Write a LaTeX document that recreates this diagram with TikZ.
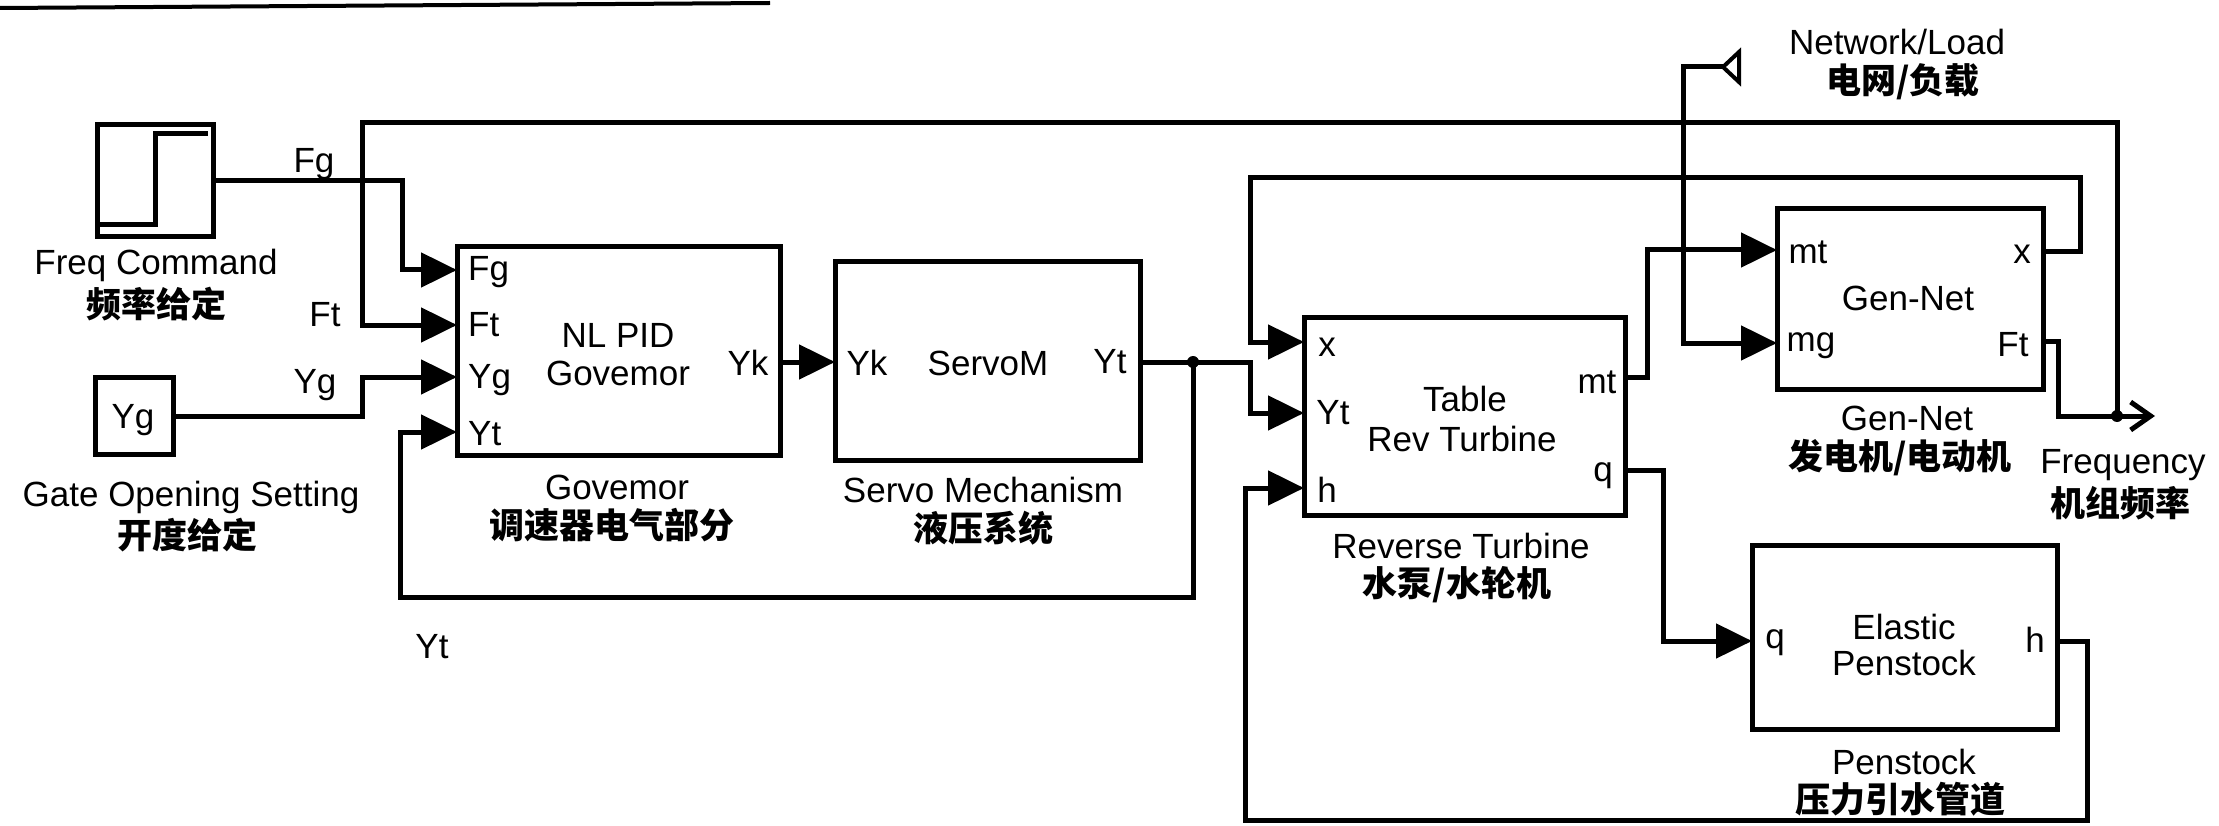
\documentclass[tikz,border=0pt]{standalone}
\usepackage{fontspec}
\setmainfont{Liberation Sans}
\newfontfamily\cjk{Noto Sans CJK SC}
\usetikzlibrary{arrows.meta}
\begin{document}
\begin{tikzpicture}[x=1pt,y=-1pt,
  blk/.style={draw, line width=5pt, inner sep=0pt},
  wire/.style={line width=5pt, line join=miter},
  sig/.style={wire, -{Triangle[length=36pt,width=34pt]}},
  txt/.style={font=\fontsize{35}{38}\selectfont, inner sep=0pt},
  ctxt/.style={font=\fontsize{35}{38}\selectfont\cjk\bfseries, inner sep=0pt},
]
\useasboundingbox (0,0) rectangle (2219,826);
% scan border line at the top
\draw[line width=4pt] (0,8) -- (770,3);

% ---------- blocks ----------
\node[blk, minimum width=116pt, minimum height=112pt] (freq) at (155,181) {};
\draw[line width=5pt] (100,225) -- (155,225) -- (155,134) -- (208,134);
\node[blk, minimum width=78pt, minimum height=77pt] (ygbox) at (134,416) {};
\node[txt] (ygtxt) at (133,420) {Yg};

\node[blk, minimum width=323pt, minimum height=208pt] (gov) at (618.5,351) {};
\node[blk, minimum width=305pt, minimum height=198pt] (servo) at (987.5,361) {};
\node[blk, minimum width=321pt, minimum height=198pt] (turb) at (1464.5,416) {};
\node[blk, minimum width=266pt, minimum height=180pt] (gen) at (1910,299) {};
\node[blk, minimum width=305pt, minimum height=184pt] (pen) at (1904.5,637) {};

% ---------- ports ----------
\coordinate (gFg) at (457,270);
\coordinate (gFt) at (457,325);
\coordinate (gYg) at (457,377);
\coordinate (gYt) at (457,432);
\coordinate (gYk) at (780,362);
\coordinate (sYk) at (835,362);
\coordinate (sYt) at (1140,362);
\coordinate (tX) at (1304,342);
\coordinate (tYt) at (1304,413);
\coordinate (tH) at (1304,488);
\coordinate (tMt) at (1625,377);
\coordinate (tQ) at (1625,470);
\coordinate (nMt) at (1777,250);
\coordinate (nMg) at (1777,343);
\coordinate (nX) at (2043,252);
\coordinate (nFt) at (2043,341);
\coordinate (pQ) at (1752,641);
\coordinate (pH) at (2057,641);
\coordinate (netLoad) at (1723,67);
\coordinate (jYt) at (1193,362);
\coordinate (jF) at (2117,416);
\coordinate (freqEnd) at (2155,416);

% ---------- connectors ----------
\draw[sig] (freq.east) -- (402,181) -- (402,270) -- (gFg);
\draw[sig] (ygbox.east) -- (362,416) -- (362,377) -- (gYg);
\draw[sig] (jF) -- (2117,123) -- (362,123) -- (362,325) -- (gFt);
\draw[sig] (gYk) -- (sYk);
\draw[wire] (sYt) -- (jYt);
\draw[sig] (jYt) -- (1250,362) -- (1250,413) -- (tYt);
\draw[sig] (jYt) -- (1193,597) -- (400,597) -- (400,432) -- (gYt);
\draw[sig] (nX) -- (2080,252) -- (2080,178) -- (1250,178) -- (1250,342) -- (tX);
\draw[sig] (tMt) -- (1647,377) -- (1647,250) -- (nMt);
\draw[sig] (netLoad) -- (1683,67) -- (1683,343) -- (nMg);
\draw[sig] (tQ) -- (1663,470) -- (1663,641) -- (pQ);
\draw[sig] (pH) -- (2087,641) -- (2087,820) -- (1245,820) -- (1245,488) -- (tH);
\draw[wire] (nFt) -- (2058,341) -- (2058,416) -- (jF);
\draw[wire, -{Straight Barb[length=20pt,width=28pt]}] (jF) -- (freqEnd);
\fill (jYt) circle (6pt);
\fill (jF) circle (6pt);
% Network/Load line end
\draw[line width=4pt, line join=miter] (netLoad) -- (1739,52) -- (1739,82) -- cycle;

% ---------- texts ----------
\node[txt] (t1) at (156,265) {Freq Command};
\node[ctxt] (t2) at (156,304) {频率给定};
\node[txt] (t3) at (191,497) {Gate Opening Setting};
\node[ctxt] (t4) at (187,535) {开度给定};
\node[txt] (t5) at (432,647) {Yt};
\node[txt] (t6) at (314,164) {Fg};
\node[txt] (t7) at (325,315) {Ft};
\node[txt] (t8) at (315,385) {Yg};

\node[txt, anchor=west] (g1) at (468,272) {Fg};
\node[txt, anchor=west] (g2) at (468,325) {Ft};
\node[txt, anchor=west] (g3) at (468,380) {Yg};
\node[txt, anchor=west] (g4) at (468,434) {Yt};
\node[txt] (g5) at (618,335) {NL PID};
\node[txt] (g6) at (618,373) {Govemor};
\node[txt] (g7) at (748,363) {Yk};
\node[txt] (g8) at (617,487) {Govemor};
\node[ctxt] (g9) at (612,525) {调速器电气部分};

\node[txt] (s1) at (867,363) {Yk};
\node[txt] (s2) at (988,363) {ServoM};
\node[txt] (s3) at (1110,362) {Yt};
\node[txt] (s4) at (983,490) {Servo Mechanism};
\node[ctxt] (s5) at (983,528) {液压系统};

\node[txt] (r1) at (1327,347) {x};
\node[txt] (r2) at (1333,413) {Yt};
\node[txt] (r3) at (1327,490) {h};
\node[txt] (r4) at (1597,382) {mt};
\node[txt] (r5) at (1603,476) {q};
\node[txt] (r6) at (1465,399) {Table};
\node[txt] (r7) at (1462,439) {Rev Turbine};
\node[txt] (r8) at (1461,546) {Reverse Turbine};
\node[ctxt] (r9) at (1457,585) {水泵/水轮机};

\node[txt] (n1) at (1808,252) {mt};
\node[txt] (n2) at (1811,346) {mg};
\node[txt] (n3) at (2022,254) {x};
\node[txt] (n4) at (2013,345) {Ft};
\node[txt] (n5) at (1908,298) {Gen-Net};
\node[txt] (n6) at (1907,418) {Gen-Net};
\node[ctxt] (n7) at (1900,458) {发电机/电动机};
\node[txt] (f1) at (2123,465) {Frequency};
\node[ctxt] (f2) at (2120,503) {机组频率};
\node[txt] (l1) at (1897,42) {Network/Load};
\node[ctxt] (l2) at (1903,82) {电网/负载};

\node[txt] (p1) at (1775,643) {q};
\node[txt] (p2) at (2035,640) {h};
\node[txt] (p3) at (1904,627) {Elastic};
\node[txt] (p4) at (1904,663) {Penstock};
\node[txt] (p5) at (1904,762) {Penstock};
\node[ctxt] (p6) at (1900,799) {压力引水管道};
\end{tikzpicture}
\end{document}
